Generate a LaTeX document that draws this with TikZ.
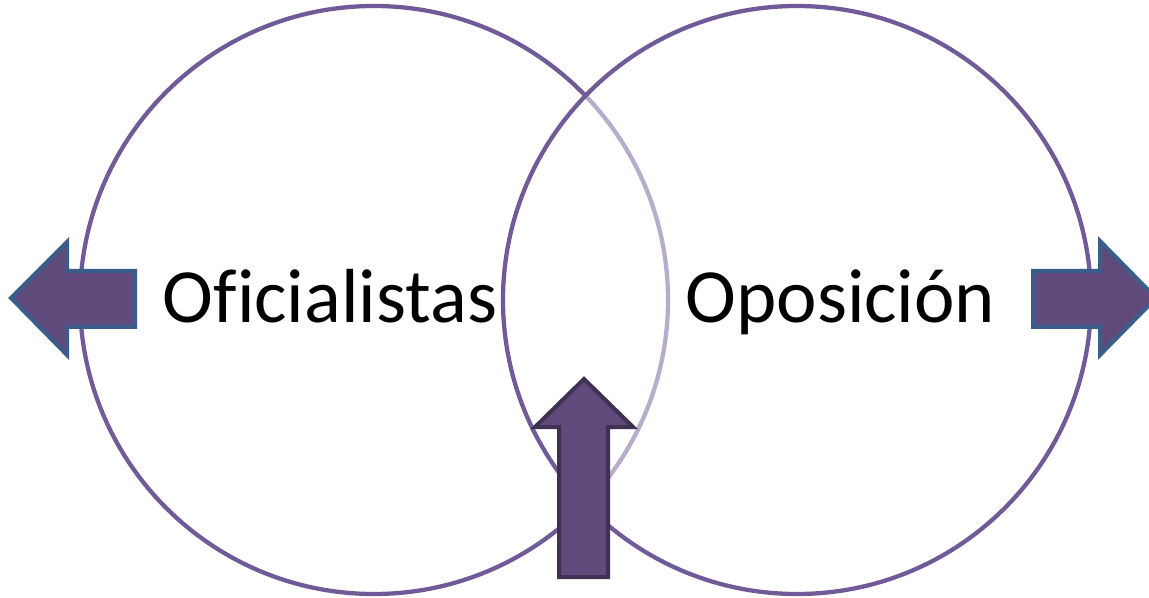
\documentclass[tikz,border=0pt]{standalone}
\usepackage{fontspec}
\setmainfont{Carlito}[Ligatures=NoCommon]
\definecolor{circ}{HTML}{715A98}
\definecolor{arrfill}{HTML}{604A7B}
\definecolor{arrblue}{HTML}{3A5E8C}
\definecolor{arrdark}{HTML}{3F3151}
\tikzset{
  venn/.style={draw=circ, line width=3.2pt},
  sidearrow/.style={draw=arrblue, fill=arrfill, line width=3pt, line join=miter},
  uparrow/.style={draw=arrdark, fill=arrfill, line width=3pt, line join=miter},
  lbl/.style={font=\fontsize{57.5}{60}\selectfont, text=black, inner sep=0pt}
}
\begin{document}
\begin{tikzpicture}[x=0.75pt,y=-0.75pt]
\useasboundingbox (0,0) rectangle (1149,598);
\clip (0,0) rectangle (1149,598);
\fill[white] (0,0) rectangle (1149,598);
% circles
\draw[venn] (374,300) circle[radius=294];
\path[fill=white, fill opacity=0.5] (797,300) circle[radius=294];
\draw[venn] (797,300) circle[radius=294];
% labels
\node[lbl, anchor=base] (ofi) at (330,323) {Oficialistas};
\node[lbl, anchor=base] (opo) at (840.5,323) {Oposición};
% side arrows
\draw[sidearrow] (11,298) -- (67,242) -- (67,271) -- (135,271) -- (135,327) -- (67,327) -- (67,355) -- cycle;
\draw[sidearrow] (1033,271) -- (1100,271) -- (1100,241) -- (1156,298) -- (1100,355) -- (1100,327) -- (1033,327) -- cycle;
% up arrow
\draw[uparrow] (584,379) -- (633,427) -- (608,427) -- (608,577) -- (559,577) -- (559,427) -- (535,427) -- cycle;
\end{tikzpicture}
\end{document}
